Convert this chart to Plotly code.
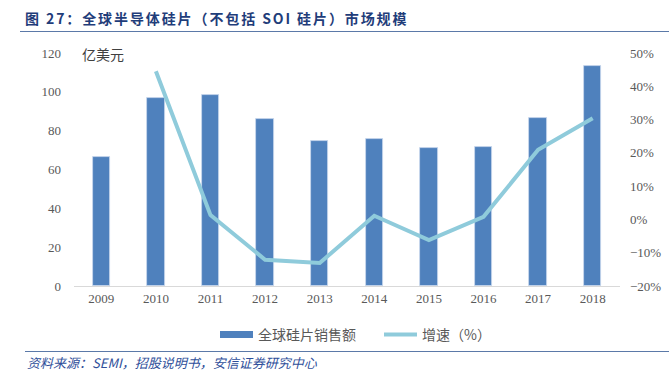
import plotly.graph_objects as go

years = ["2009", "2010", "2011", "2012", "2013", "2014", "2015", "2016", "2017", "2018"]
sales = [66.4, 96.7, 98.3, 86.0, 74.9, 75.5, 70.9, 71.4, 86.5, 113.3]
growth = [None, 44.5, 1.3, -12.1, -13.1, 1.1, -6.2, 0.8, 20.9, 30.4]

bar_name = "全球硅片销售额"
line_name = "增速（%）"
title_text = "图 27：全球半导体硅片（不包括 SOI 硅片）市场规模"
source_text = "资料来源：SEMI，招股说明书，安信证券研究中心"
unit_text = "亿美元"

BAR_COLOR = "#4F81BD"
LINE_COLOR = "#8FCBDB"
SERIF = "Liberation Serif, Times New Roman, serif"
CJK = "Noto Sans CJK SC, sans-serif"

# plot area in pixels
L, R, T, B = 74, 620, 53, 286
PW, PH = R - L, B - T


def px_x(x):
    return (x - L) / PW


def px_y(y):
    return (B - y) / PH


fig = go.Figure()
fig.add_trace(go.Bar(x=years, y=sales, name=bar_name,
                     marker=dict(color=BAR_COLOR, line=dict(color="#C9D8EC", width=0.8)),
                     width=0.32, showlegend=False))
# legend proxy for the bar series (wide rectangle symbol)
fig.add_trace(go.Scatter(x=[None], y=[None], mode="lines", name=bar_name,
                         line=dict(color=BAR_COLOR, width=7)))
fig.add_trace(go.Scatter(x=years, y=growth, name=line_name, mode="lines", yaxis="y2",
                         line=dict(color=LINE_COLOR, width=4), connectgaps=False))

fig.update_layout(
    width=669, height=382,
    margin=dict(l=L, r=669 - R, t=T, b=382 - B, autoexpand=False),
    paper_bgcolor="white", plot_bgcolor="white",
    bargap=0,
    xaxis=dict(type="category", range=[-0.5, 9.5], showgrid=False, showline=True,
               linecolor="#D9D9D9", linewidth=1, ticks="", automargin=False,
               tickfont=dict(family=SERIF, size=13, color="#595959")),
    yaxis=dict(range=[0, 120], dtick=20, showgrid=False, zeroline=False, showline=False,
               automargin=False, ticklabelstandoff=12,
               tickfont=dict(family=SERIF, size=13, color="#595959")),
    yaxis2=dict(range=[-20, 50], dtick=10, overlaying="y", side="right", showgrid=False,
                zeroline=False, showline=False, ticksuffix="%", ticklabelstandoff=9,
                automargin=False, tickfont=dict(family=SERIF, size=13, color="#595959")),
    legend=dict(orientation="h", x=px_x(215), xanchor="left", y=px_y(335), yanchor="middle",
                itemwidth=33, entrywidth=116, entrywidthmode="pixels",
                font=dict(family=CJK, size=14, color="#595959"),
                traceorder="normal", bgcolor="rgba(0,0,0,0)"),
    showlegend=True,
)

fig.add_annotation(text=unit_text, xref="paper", yref="paper", x=px_x(80), y=px_y(54),
                   xanchor="left", yanchor="middle", showarrow=False,
                   font=dict(family=CJK, size=14, color="#404040"))
fig.add_annotation(text="<span style='letter-spacing:1.9px'><b>" + title_text + "</b></span>",
                   xref="paper", yref="paper",
                   x=px_x(23), y=px_y(18), xanchor="left", yanchor="middle", showarrow=False,
                   font=dict(family=CJK, size=14, color="#1F3D7A"))
fig.add_annotation(text="<i>" + source_text + "</i>", xref="paper", yref="paper",
                   x=px_x(25), y=px_y(362), xanchor="left", yanchor="middle", showarrow=False,
                   font=dict(family=CJK, size=13, color="#2F4F9A"))
fig.add_shape(type="line", xref="paper", yref="paper", x0=px_x(20), x1=px_x(669),
              y0=px_y(31.5), y1=px_y(31.5), line=dict(color="#5B79A8", width=1))
fig.add_shape(type="line", xref="paper", yref="paper", x0=px_x(25), x1=px_x(669),
              y0=px_y(351.5), y1=px_y(351.5), line=dict(color="#5B79A8", width=1))

fig.write_html("out.html", post_script="document.body.style.margin='0';",
               config={"displayModeBar": False})
